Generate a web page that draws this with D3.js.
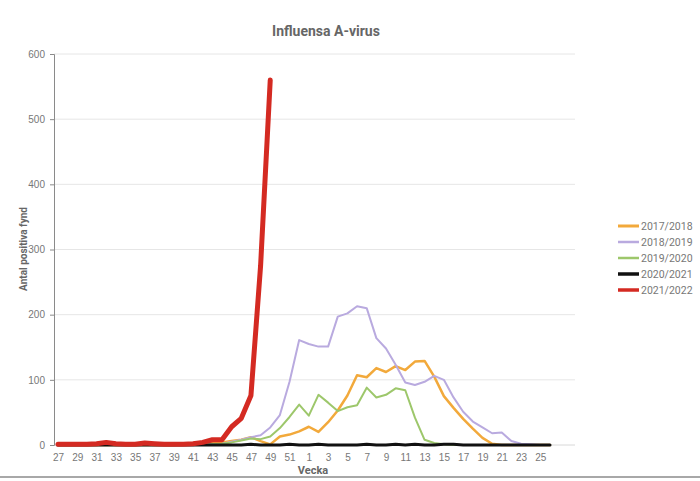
<!DOCTYPE html>
<html>
<head>
<meta charset="utf-8">
<script src="https://cdn.jsdelivr.net/npm/d3@7"></script>
<style>
  body { margin: 0; background: #fff; }
  svg { display: block; font-family: Roboto, "Liberation Sans", sans-serif; }
</style>
</head>
<body>
<svg id="chart"></svg>
<script>
// weeks of the season, week 27 to week 26
const weeks = ["27","28","29","30","31","32","33","34","35","36","37","38","39","40","41","42","43","44","45","46","47","48","49","50","51","52",
  "1","2","3","4","5","6","7","8","9","10","11","12","13","14","15","16","17","18","19","20","21","22","23","24","25","26"]

const tickWeeks = ["27","29","31","33","35","37","39","41","43","45","47","49","51","1","3","5","7","9","11","13","15","17","19","21","23","25"]

const yTicks = [0, 100, 200, 300, 400, 500, 600]

const seasons = ["2017/2018", "2018/2019", "2019/2020", "2020/2021", "2021/2022"]

const v2017 = [0,0,0,0,0,0,0,0,0,0,0,0,0,1,1,2,3,4,6,8,12,6,1,13,16,21,
  28,20,35,53,76,107,104,118,112,121,115,128,129,105,75,57,40,25,11,2,0,0,0,0,0,0]
const v2018 = [0,0,0,0,0,0,0,0,0,0,0,0,0,0,1,1,1,2,5,8,12,15,27,46,97,161,
  155,151,151,197,202,213,210,164,148,123,96,92,97,106,100,73,51,36,27,18,19,6,2,1,0,0]
const v2019 = [0,0,0,0,0,0,0,0,0,0,0,0,0,0,0,1,1,2,4,7,10,9,13,26,43,62,
  45,77,65,52,58,61,88,73,77,87,84,42,8,3,1,0,0,0,0,0,0,0,0,0,0,0]
const v2020 = [0,0,0,0,0,0,0,0,0,0,0,0,0,0,0,0,0,0,0,0,1,0,0,0,1,0,
  0,1,0,0,0,0,1,0,0,1,0,1,0,0,1,1,0,0,0,0,0,0,0,0,0,0]
const v2021 = [1,1,1,1,2,4,2,1,1,3,2,1,1,1,2,4,8,8,28,41,76,275,560]

const seriesValues = [v2017, v2018, v2019, v2020, v2021]
const colors = ["#f2a93b", "#b9aadf", "#9dc76b", "#111111", "#d42a22"]
const widths = [2.5, 2, 2, 3, 5]

const width = 700
const height = 481

const svg = d3.select('#chart')
  .attr('width', width)
  .attr('height', height)

const x = d3.scalePoint()
  .domain(weeks)
  .range([58, 550])

const y = d3.scaleLinear()
  .domain([0, 600])
  .range([445, 54])

const plotLeft = 54
const plotRight = 575

// grid
svg.append('g')
  .selectAll('line')
  .data(yTicks.slice(1))
  .enter()
  .append('line')
  .attr('x1', plotLeft)
  .attr('x2', plotRight)
  .attr('y1', d => y(d))
  .attr('y2', d => y(d))
  .attr('stroke', '#e6e6e6')
  .attr('stroke-width', 1)

// baseline
svg.append('line')
  .attr('x1', plotLeft)
  .attr('x2', plotRight)
  .attr('y1', y(0))
  .attr('y2', y(0))
  .attr('stroke', '#d8d8d8')
  .attr('stroke-width', 1)

// y axis
const yAxis = svg.append('g')
  .attr('transform', 'translate(' + plotLeft + ',0)')
  .call(d3.axisLeft(y).tickValues(yTicks).tickSize(4).tickPadding(5))
yAxis.select('.domain').attr('stroke', '#8a8a8a')
yAxis.selectAll('.tick line').attr('stroke', '#8a8a8a')
yAxis.selectAll('text').attr('fill', '#777').style('font-size', '10px')

// x axis
const xAxis = svg.append('g')
  .attr('transform', 'translate(0,' + y(0) + ')')
  .call(d3.axisBottom(x).tickValues(tickWeeks).tickSize(0).tickPadding(9))
xAxis.select('.domain').remove()
xAxis.selectAll('text').attr('fill', '#777').style('font-size', '10px')

// lines
const line = d3.line()
  .x((d, i) => x(weeks[i]))
  .y(d => y(d))

svg.append('g')
  .selectAll('path')
  .data(seriesValues)
  .enter()
  .append('path')
  .attr('d', d => line(d))
  .attr('fill', 'none')
  .attr('stroke', (d, i) => colors[i])
  .attr('stroke-width', (d, i) => widths[i])
  .attr('stroke-linejoin', 'round')
  .attr('stroke-linecap', 'round')

// title
svg.append('text')
  .attr('x', 326)
  .attr('y', 36)
  .attr('text-anchor', 'middle')
  .attr('fill', '#666')
  .style('font-size', '14px')
  .style('font-weight', 'bold')
  .text('Influensa A-virus')

// axis titles
svg.append('text')
  .attr('transform', 'translate(27,249) rotate(-90)')
  .attr('text-anchor', 'middle')
  .attr('fill', '#666')
  .style('font-size', '10px')
  .style('font-weight', 'bold')
  .text('Antal positiva fynd')

svg.append('text')
  .attr('x', 313)
  .attr('y', 474)
  .attr('text-anchor', 'middle')
  .attr('fill', '#666')
  .style('font-size', '11px')
  .style('font-weight', 'bold')
  .text('Vecka')

// legend
const legend = svg.append('g')
  .selectAll('g')
  .data(seasons)
  .enter()
  .append('g')
  .attr('transform', (d, i) => 'translate(618,' + (226 + i * 16) + ')')

legend.append('line')
  .attr('x1', 0)
  .attr('x2', 21)
  .attr('stroke', (d, i) => colors[i])
  .attr('stroke-width', (d, i) => Math.min(widths[i] + 0.5, 3.5))

legend.append('text')
  .attr('x', 23)
  .attr('dy', '0.35em')
  .attr('fill', '#777')
  .style('font-size', '10.5px')
  .text(d => d)

// bottom border line
svg.append('line')
  .attr('x1', 0)
  .attr('x2', width)
  .attr('y1', 477)
  .attr('y2', 477)
  .attr('stroke', '#a8a8a8')
  .attr('stroke-width', 2)
</script>
</body>
</html>
